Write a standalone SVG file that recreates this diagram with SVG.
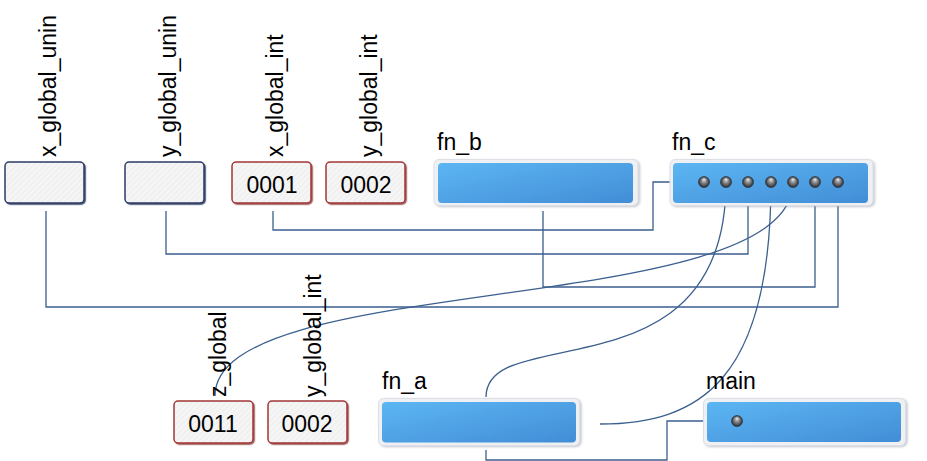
<svg xmlns="http://www.w3.org/2000/svg" width="927" height="461" viewBox="0 0 927 461">
<style>
  text { font-family: "Liberation Sans", Arial, sans-serif; fill: #000; }
  .lbl { font-size: 23px; }
  .val { font-size: 23px; text-anchor: middle; }
  .vbox { fill: url(#hatch); stroke-width: 1.5; }
  .unin { stroke: #2b3a67; }
  .int { stroke: #a33535; }
  .halo { fill: #eef0f4; stroke: #dcdfe6; stroke-width: 1; }
  .fbox { fill: url(#blue); }
  .port { fill: url(#ball); stroke: #2a2c30; stroke-width: 0.6; }
  .conn { fill: none; stroke: #3b5f8e; stroke-width: 1.3; }
</style>
<defs>
  <pattern id="hatch" width="4" height="4" patternUnits="userSpaceOnUse" patternTransform="rotate(45)">
    <rect width="4" height="4" fill="#f5f5f5"/>
    <line x1="0" y1="0" x2="0" y2="4" stroke="#e6e6e6" stroke-width="1"/>
  </pattern>
  <linearGradient id="blue" x1="0" y1="0" x2="1" y2="1">
    <stop offset="0" stop-color="#5cb6f3"/>
    <stop offset="1" stop-color="#428dd6"/>
  </linearGradient>
  <radialGradient id="ball" cx="0.5" cy="0.55" r="0.6" fx="0.5" fy="0.25">
    <stop offset="0" stop-color="#f4f4f4"/>
    <stop offset="0.3" stop-color="#9a9ca0"/>
    <stop offset="0.75" stop-color="#3a3c40"/>
    <stop offset="1" stop-color="#1a1b1e"/>
  </radialGradient>
  <filter id="shd" x="-10%" y="-10%" width="120%" height="130%">
    <feDropShadow dx="1.2" dy="1.2" stdDeviation="0.4" flood-color="#1c2a50" flood-opacity="0.8"/>
  </filter>
  <filter id="shdr" x="-10%" y="-10%" width="120%" height="130%">
    <feDropShadow dx="1.2" dy="1.2" stdDeviation="0.4" flood-color="#7a2020" flood-opacity="0.7"/>
  </filter>
  <filter id="fshd" x="-5%" y="-10%" width="110%" height="130%">
    <feDropShadow dx="1.5" dy="1" stdDeviation="1" flood-color="#9aa0ae" flood-opacity="0.6"/>
  </filter>
</defs>

<g id="connectors">
  <path class="conn" d="M46,211 V307 H838 V182"/>
  <path class="conn" d="M166,211 V254 H748 V182"/>
  <path class="conn" d="M273,211 V230 H653 V182 H704"/>
  <path class="conn" d="M543,211 V287 H815 V182"/>
  <path class="conn" d="M793,182 C793,320 215,270 215,396"/>
  <path class="conn" d="M726,182 C726,400 486,320 486,397"/>
  <path class="conn" d="M771,182 C771,380 700,424 600,424"/>
  <path class="conn" d="M486,450 V460 H667 V421 H737"/>
</g>

<g id="x_global_unin">
  <rect class="vbox unin" x="5" y="162" width="79" height="41" rx="4" filter="url(#shd)"/>
  <text class="lbl" transform="translate(56,157) rotate(-90)">x_global_unin</text>
</g>
<g id="y_global_unin">
  <rect class="vbox unin" x="125" y="162" width="79" height="41" rx="4" filter="url(#shd)"/>
  <text class="lbl" transform="translate(176,157) rotate(-90)">y_global_unin</text>
</g>
<g id="x_global_int">
  <rect class="vbox int" x="232" y="162" width="79" height="41" rx="4" filter="url(#shdr)"/>
  <text class="lbl" transform="translate(283,157) rotate(-90)">x_global_int</text>
  <text class="val" x="272" y="193">0001</text>
</g>
<g id="y_global_int_top">
  <rect class="vbox int" x="326" y="162" width="79" height="41" rx="4" filter="url(#shdr)"/>
  <text class="lbl" transform="translate(377,157) rotate(-90)">y_global_int</text>
  <text class="val" x="366" y="193">0002</text>
</g>

<g id="fn_b">
  <rect class="halo" x="434" y="159.5" width="204" height="46" rx="5" filter="url(#fshd)"/>
  <rect class="fbox" x="438" y="163" width="195" height="40" rx="4"/>
  <text class="lbl" x="437" y="150">fn_b</text>
</g>
<g id="fn_c">
  <rect class="halo" x="670" y="159.5" width="203" height="46" rx="5" filter="url(#fshd)"/>
  <rect class="fbox" x="673" y="163" width="195" height="40" rx="4"/>
  <text class="lbl" x="672" y="150">fn_c</text>
  <circle class="port" cx="704" cy="182" r="5.5"/>
  <circle class="port" cx="726" cy="182" r="5.5"/>
  <circle class="port" cx="748" cy="182" r="5.5"/>
  <circle class="port" cx="771" cy="182" r="5.5"/>
  <circle class="port" cx="793" cy="182" r="5.5"/>
  <circle class="port" cx="815" cy="182" r="5.5"/>
  <circle class="port" cx="838" cy="182" r="5.5"/>
</g>

<g id="z_global">
  <rect class="vbox int" x="174" y="401" width="79" height="42" rx="4" filter="url(#shdr)"/>
  <text class="lbl" transform="translate(226,397) rotate(-90)">z_global</text>
  <text class="val" x="213" y="432">0011</text>
</g>
<g id="y_global_int_bottom">
  <rect class="vbox int" x="268" y="401" width="79" height="42" rx="4" filter="url(#shdr)"/>
  <text class="lbl" transform="translate(321,397) rotate(-90)">y_global_int</text>
  <text class="val" x="307" y="432">0002</text>
</g>

<g id="fn_a">
  <rect class="halo" x="378.5" y="398.5" width="201" height="47" rx="5" filter="url(#fshd)"/>
  <rect class="fbox" x="382" y="402" width="194" height="40.5" rx="4"/>
  <text class="lbl" x="382" y="389">fn_a</text>
</g>
<g id="main">
  <rect class="halo" x="703.5" y="398.5" width="202" height="47" rx="5" filter="url(#fshd)"/>
  <rect class="fbox" x="707" y="402" width="194" height="40" rx="4"/>
  <text class="lbl" x="706" y="389">main</text>
  <circle class="port" cx="737" cy="421" r="5.5"/>
</g>
</svg>
